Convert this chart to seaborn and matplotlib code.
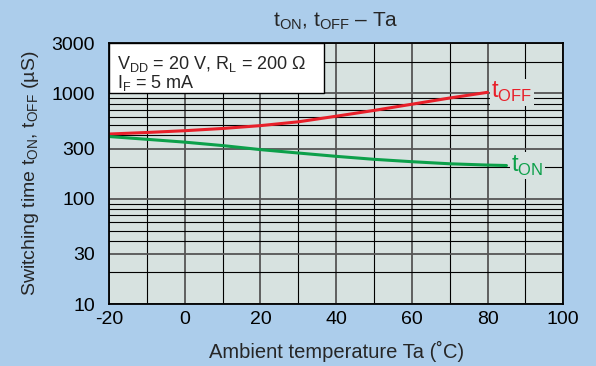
import numpy as np
import pandas as pd
import seaborn as sns
import matplotlib.pyplot as plt
from matplotlib.patches import Rectangle
from matplotlib.ticker import FixedLocator, NullFormatter

# data
temp_off = [-20, -10, 0, 10, 20, 30, 40, 50, 60, 70, 80]
t_off = [412, 426, 443, 465, 495, 538, 608, 690, 790, 905, 1025]
temp_on = [-20, -10, 0, 10, 20, 30, 40, 50, 60, 70, 80, 85]
t_on = [390, 367, 345, 320, 293, 272, 253, 237, 225, 215, 209, 207]

x_ticks = [-20, 0, 20, 40, 60, 80, 100]
y_ticks = [10, 30, 100, 300, 1000, 3000]

sns.set_style("white")
plt.rcParams['font.family'] = ['Liberation Sans', 'DejaVu Sans']
plt.rcParams['mathtext.fontset'] = 'custom'
plt.rcParams['mathtext.rm'] = 'Liberation Sans'
plt.rcParams['axes.unicode_minus'] = False

bg = '#ACCDEB'
face = '#D7E2E0'
red = '#E8202A'
green = '#0CA04A'

fig = plt.figure(figsize=(5.96, 3.66), dpi=100, facecolor=bg)
ax = fig.add_axes([0.183, 0.169, 0.762, 0.713])
ax.set_facecolor(face)

df_off = pd.DataFrame({'Ta': temp_off, 't': t_off})
df_on = pd.DataFrame({'Ta': temp_on, 't': t_on})
sns.lineplot(data=df_off, x='Ta', y='t', color=red, lw=2.2, ax=ax, zorder=4)
sns.lineplot(data=df_on, x='Ta', y='t', color=green, lw=2.2, ax=ax, zorder=4)

ax.set_yscale('log')
ax.set_xlim(-20, 100)
ax.set_ylim(10, 3000)

# grid
ax.xaxis.set_major_locator(FixedLocator(x_ticks))
ax.xaxis.set_minor_locator(FixedLocator([-10, 10, 30, 50, 70, 90]))
minor_y = [m * d for d in (10, 100, 1000) for m in range(2, 10) if m * d < 3000]
minor_y = [v for v in minor_y if v not in y_ticks]
ax.yaxis.set_major_locator(FixedLocator(y_ticks))
ax.yaxis.set_minor_locator(FixedLocator(minor_y))
ax.yaxis.set_major_formatter(plt.FuncFormatter(lambda v, p: f"{v:g}"))
ax.yaxis.set_minor_formatter(NullFormatter())
ax.grid(which='major', color='#555555', lw=1.3)
ax.grid(which='minor', color='black', lw=0.8)
ax.tick_params(which='both', length=0, labelsize=14, colors='black')
ax.tick_params(axis='y', pad=10)
ax.tick_params(axis='x', pad=5)
for s in ax.spines.values():
    s.set_color('black')
    s.set_linewidth(1.3)
    s.set_zorder(6)

# condition box
ax.add_patch(Rectangle((-20, 1000), 56.8, 2000, facecolor='white',
                       edgecolor='black', lw=1.0, zorder=5))
ax.text(-17.8, 1900, r"V$_{\mathregular{DD}}$ = 20 V, R$_{\mathregular{L}}$ = 200 Ω",
        fontsize=13, va='center', zorder=6)
ax.text(-17.8, 1250, r"I$_{\mathregular{F}}$ = 5 mA", fontsize=13, va='center', zorder=6)

# curve labels
lbl_box = dict(facecolor=face, edgecolor='none', pad=1)
ax.text(81, 1030, r"t$_{\mathregular{OFF}}$", color=red, fontsize=17,
        va='center', ha='left', bbox=lbl_box, zorder=5)
ax.text(86.3, 205, r"t$_{\mathregular{ON}}$", color=green, fontsize=17,
        va='center', ha='left', bbox=lbl_box, zorder=5)

ax.set_xlabel("Ambient temperature Ta (˚C)", fontsize=14.5, labelpad=9)
ax.set_ylabel(r"Switching time t$_{\mathregular{ON}}$, t$_{\mathregular{OFF}}$ (µS)",
              fontsize=14, labelpad=8)
ax.set_title(r"t$_{\mathregular{ON}}$, t$_{\mathregular{OFF}}$ – Ta", fontsize=15, pad=12)

fig.savefig('out.png', dpi=100, facecolor=bg)
